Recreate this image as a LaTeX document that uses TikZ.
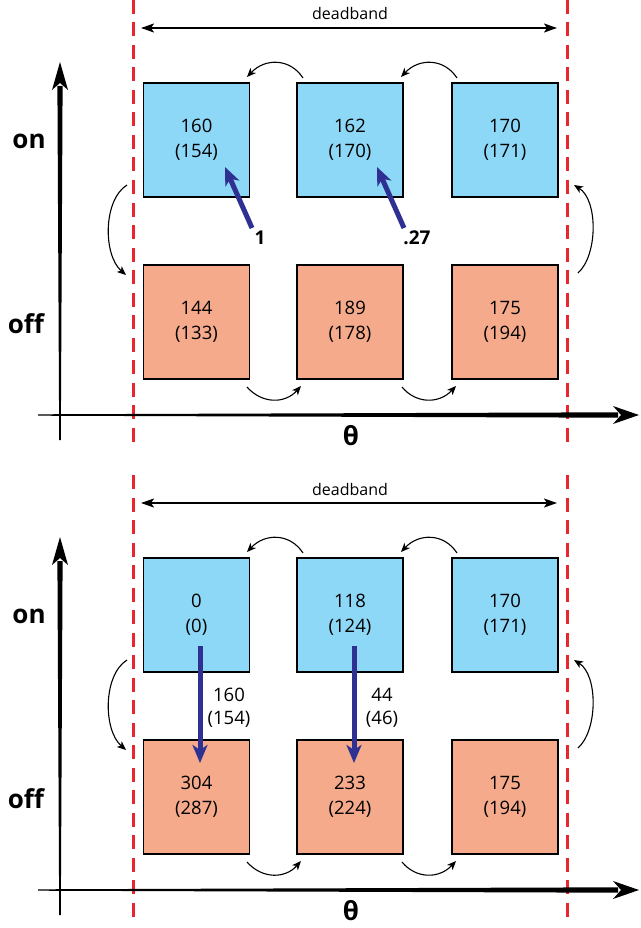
\documentclass[tikz,border=0pt]{standalone}
\usepackage{fontspec}
\setmainfont{Open Sans}
\usetikzlibrary{arrows.meta}
\definecolor{boxblue}{HTML}{8ED8F7}
\definecolor{boxorange}{HTML}{F5AA8C}
\definecolor{navy}{HTML}{2E3192}
\definecolor{dashred}{HTML}{E8262E}
\tikzset{
  cell/.style={draw=black, line width=1.8pt, minimum width=106pt, minimum height=114pt,
    inner sep=0pt, align=center, font=\fontsize{18.5}{25}\selectfont},
  oncell/.style={cell, fill=boxblue},
  offcell/.style={cell, fill=boxorange},
  reddash/.style={draw=dashred, line width=3pt, dash pattern=on 14pt off 8.5pt},
  dbarrow/.style={line width=2pt, {Stealth[length=13pt,width=9pt,inset=3pt]}-{Stealth[length=13pt,width=9pt,inset=3pt]}},
  dblabel/.style={font=\fontsize{16}{18}\selectfont, inner sep=0pt},
  axislabel/.style={font=\fontsize{26}{28}\selectfont\bfseries, inner sep=0pt},
  thetalabel/.style={font=\fontsize{26}{28}\selectfont\bfseries, inner sep=0pt},
  bendarrow/.style={line width=1.1pt, -{Stealth[length=9pt,width=7.5pt,inset=2.5pt]}},
  bluearrow/.style={draw=navy, line width=5pt, -{Stealth[length=18pt,width=15pt,inset=5pt]}},
  weight/.style={font=\fontsize{19}{20}\selectfont\bfseries, inner sep=0pt},
  flowlabel/.style={font=\fontsize{18.5}{23}\selectfont, align=center, inner sep=0pt},
}
\newcommand\panelframe{%
  % deadband
  \coordinate (dbL) at (141,28);
  \coordinate (dbR) at (557,28);
  \draw[dbarrow] (dbL) -- (dbR);
  \node[dblabel] (db) at (350,14) {deadband};
  % red dashed limits
  \coordinate (rlT) at (133,0);  \coordinate (rlB) at (133,442);
  \coordinate (rrT) at (567,0);  \coordinate (rrB) at (567,442);
  \draw[reddash] (rlT) -- (rlB);
  \draw[reddash] (rrT) -- (rrB);
  % vertical axis (tapered)
  \coordinate (vax) at (60,62);
  \fill (59.2,440) -- (57.4,86) -- (62.6,86) -- (60.8,440) -- cycle;
  \fill (vax) -- (52,90) -- (60,83) -- (68,90) -- cycle;
  % horizontal axis (tapered)
  \coordinate (hax) at (639,415);
  \fill (38,414.3) -- (618,412.3) -- (618,417.7) -- (38,415.7) -- cycle;
  \fill (hax) -- (613,406) -- (621,415) -- (613,424) -- cycle;
  % axis labels
  \node[axislabel] (on) at (29,141) {on};
  \node[axislabel] (off) at (26,324) {off};
  \node[thetalabel] (theta) at (351,436) {θ};
}
\newcommand\panelbends{%
  \draw[bendarrow] (c2tl) .. controls (290,58) and (265,58) .. (c1tr);
  \draw[bendarrow] (c3tl) .. controls (444,58) and (419,58) .. (c2tr);
  \draw[bendarrow] (c4br) .. controls (262,404) and (285,404) .. (c5bl);
  \draw[bendarrow] (c5br) .. controls (416,404) and (439,404) .. (c6bl);
  \draw[bendarrow] (c1bl) .. controls (103,200) and (103,255) .. (c4tl);
  \draw[bendarrow] (c6tr) .. controls (598,255) and (598,200) .. (c3br);
}
\newcommand\panelbendpoints{%
  \coordinate (c1tr) at (247,77);
  \coordinate (c2tl) at (303,78);
  \coordinate (c2tr) at (401,77);
  \coordinate (c3tl) at (457,78);
  \coordinate (c4br) at (247,387);
  \coordinate (c5bl) at (301,386);
  \coordinate (c5br) at (402,387);
  \coordinate (c6bl) at (456,386);
  \coordinate (c1bl) at (127,185);
  \coordinate (c4tl) at (126,275);
  \coordinate (c6tr) at (578,273);
  \coordinate (c3br) at (574,185);
}
\begin{document}
\begin{tikzpicture}[x=1pt,y=-1pt]
\useasboundingbox[fill=white] (0,0) rectangle (640,928);

% ---------------- top panel ----------------
\begin{scope}[name prefix=top-]
  \panelframe
  \node[oncell]  (on1)  at (196.5,140) {160\\(154)};
  \node[oncell]  (on2)  at (350,140)   {162\\(170)};
  \node[oncell]  (on3)  at (505,140)   {170\\(171)};
  \node[offcell] (off1) at (196.5,322) {144\\(133)};
  \node[offcell] (off2) at (350,322)   {189\\(178)};
  \node[offcell] (off3) at (505,322)   {175\\(194)};
  \panelbendpoints
  \panelbends
  \coordinate (t1) at (252,228); \coordinate (h1) at (225,167);
  \coordinate (t2) at (404,228); \coordinate (h2) at (377,167);
  \draw[bluearrow] (t1) -- (h1);
  \draw[bluearrow] (t2) -- (h2);
  \node[weight] (w1) at (260,238) {1};
  \node[weight] (w2) at (417,238) {.27};
\end{scope}

% ---------------- bottom panel ----------------
\begin{scope}[shift={(0,475)}, name prefix=bot-]
  \panelframe
  \node[oncell]  (on1)  at (196.5,140) {0\\(0)};
  \node[oncell]  (on2)  at (350,140)   {118\\(124)};
  \node[oncell]  (on3)  at (505,140)   {170\\(171)};
  \node[offcell] (off1) at (196.5,322) {304\\(287)};
  \node[offcell] (off2) at (350,322)   {233\\(224)};
  \node[offcell] (off3) at (505,322)   {175\\(194)};
  \panelbendpoints
  \panelbends
  \coordinate (t1) at (200,171); \coordinate (h1) at (200,288);
  \coordinate (t2) at (354,171); \coordinate (h2) at (354,288);
  \draw[bluearrow] (t1) -- (h1);
  \draw[bluearrow] (t2) -- (h2);
  \node[flowlabel] (f1) at (229,233) {160\\(154)};
  \node[flowlabel] (f2) at (382,233) {44\\(46)};
\end{scope}
\end{tikzpicture}
\end{document}
